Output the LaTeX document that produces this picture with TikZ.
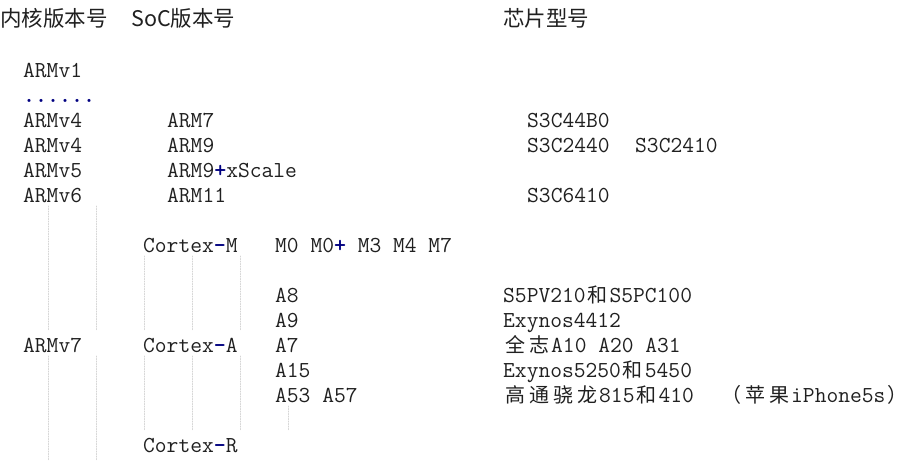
\documentclass[tikz,border=0pt]{standalone}
\usepackage{fontspec, tkz-euclide}
\newfontfamily\cjk{Noto Sans CJK SC}
\definecolor{inktext}{HTML}{202020}
\definecolor{opnavy}{HTML}{000080}
\definecolor{guidegray}{HTML}{D4D4D4}
\newcommand\zh[1]{\makebox[24pt][c]{\cjk\fontsize{20pt}{25pt}\selectfont #1}}
\newcommand\op[1]{{\bfseries\color{opnavy}#1}}
\tikzset{txt/.style={anchor=base west, inner sep=0pt, text=inktext, font=\ttfamily\fontsize{22.86pt}{25pt}\selectfont},
  head/.style={anchor=base west, inner sep=0pt, text=inktext, font=\cjk\fontsize{21.5pt}{25pt}\selectfont},
  guide/.style={guidegray, line width=1pt, dash pattern=on 1pt off 1.5pt}}

\begin{document}
\begin{tikzpicture}[x=1pt,y=1pt]
\useasboundingbox (0,0) rectangle (911,-461);
\tkzDefPoints{48.5/-206/a1, 48.5/-331/a2, 48.5/-356/a3, 48.5/-461/a4, 96.5/-206/b1, 96.5/-331/b2, 96.5/-356/b3, 96.5/-461/b4}
\tkzDefPoints{144.5/-256/c1, 144.5/-331/c2, 144.5/-356/c3, 144.5/-431/c4, 192.5/-256/d1, 192.5/-331/d2, 192.5/-356/d3, 192.5/-431/d4}
\tkzDefPoints{240.5/-256/e1, 240.5/-331/e2, 240.5/-356/e3, 240.5/-431/e4, 288.5/-406/f1, 288.5/-431/f2}
\tkzDrawSegments[guide](a1,a2 a3,a4 b1,b2 b3,b4 c1,c2 c3,c4 d1,d2 d3,d4 e1,e2 e3,e4 f1,f2)
\node[head] (hcore) at (0,-26) {内核版本号};
\node[head] (hsoc) at (131,-26) {SoC版本号};
\node[head] (hchip) at (503,-26) {芯片型号};
\node[txt] (v1) at (23,-77) {ARMv1};
\node[txt] (dots) at (23,-102) {\op{......}};
\node[txt] (v4a) at (23,-127) {ARMv4};
\node[txt] (v4b) at (23,-152) {ARMv4};
\node[txt] (v5) at (23,-177) {ARMv5};
\node[txt] (v6) at (23,-202) {ARMv6};
\node[txt] (v7) at (23,-352) {ARMv7};
\node[txt] (arm7) at (167,-127) {ARM7};
\node[txt] (arm9) at (167,-152) {ARM9};
\node[txt] (xscale) at (167,-177) {ARM9\op{+}xScale};
\node[txt] (arm11) at (167,-202) {ARM11};
\node[txt] (cm) at (143,-252) {Cortex\op{-}M};
\node[txt] (ca) at (143,-352) {Cortex\op{-}A};
\node[txt] (cr) at (143,-452) {Cortex\op{-}R};
\node[txt] (mcores) at (275,-252) {M0 M0\op{+} M3 M4 M7};
\node[txt] (a8) at (275,-302) {A8};
\node[txt] (a9) at (275,-327) {A9};
\node[txt] (a7) at (275,-352) {A7};
\node[txt] (a15) at (275,-377) {A15};
\node[txt] (a53) at (275,-402) {A53 A57};
\node[txt] (s3c44) at (527,-127) {S3C44B0};
\node[txt] (s3c2440) at (527,-152) {S3C2440};
\node[txt] (s3c2410) at (635,-152) {S3C2410};
\node[txt] (s3c6410) at (527,-202) {S3C6410};
\node[txt] (s5pv) at (503,-302) {S5PV210\zh{和}S5PC100};
\node[txt] (exy44) at (503,-327) {Exynos4412};
\node[txt] (allw) at (503,-352) {\zh{全}\zh{志}A10 A20 A31};
\node[txt] (exy52) at (503,-377) {Exynos5250\zh{和}5450};
\node[txt] (qcom) at (503,-402) {\zh{高}\zh{通}\zh{骁}\zh{龙}815\zh{和}410};
\node[txt] (apple) at (719,-402) {\zh{（}\zh{苹}\zh{果}iPhone5s\zh{）}};
\end{tikzpicture}
\end{document}
